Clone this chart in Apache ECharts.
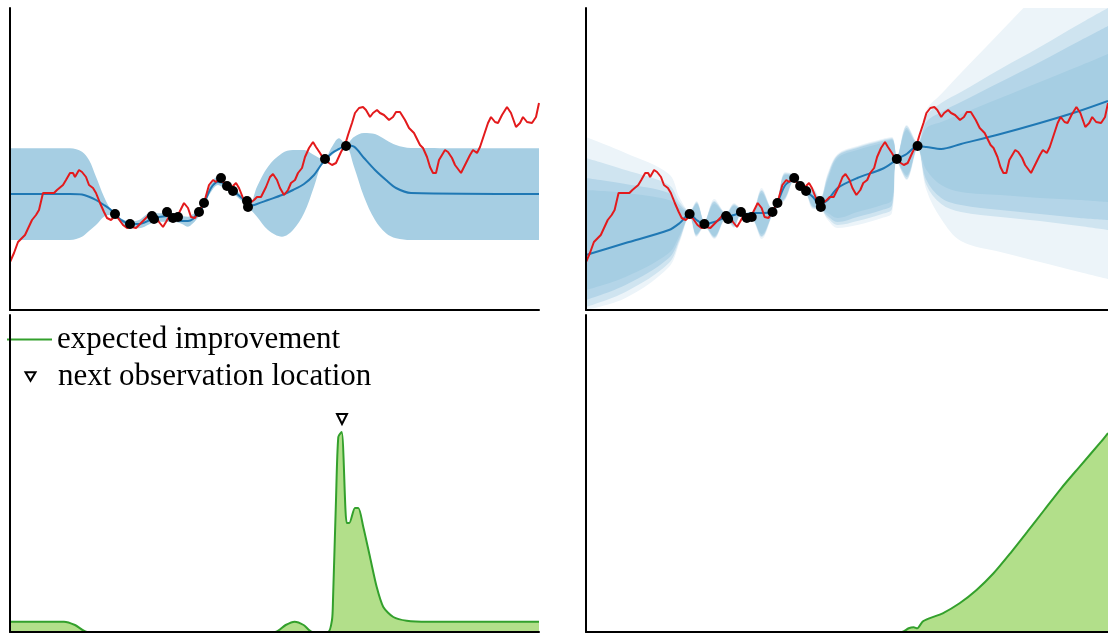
<!DOCTYPE html>
<html>
<head>
<meta charset="utf-8">
<script src="https://cdn.jsdelivr.net/npm/echarts@6/dist/echarts.min.js"></script>
<style>
  html, body { margin: 0; padding: 0; background: #fff; }
  #chart { width: 1108px; height: 633px; }
</style>
</head>
<body>
<div id="chart"></div>
<script>
// ---- objective function (red) ----
const TRUE_X = [0.00,0.04,0.08,0.15,0.22,0.26,0.29,0.33,0.35,0.38,0.44,0.47,0.53,0.56,0.60,0.63,0.65,0.69,0.72,0.76,0.79,0.83,0.86,0.90,0.94,0.97,1.01,1.04,1.08,1.13,1.17,1.22,1.26,1.31,1.36,1.40,1.45,1.49,1.53,1.56,1.60,1.65,1.69,1.74,1.78,1.81,1.85,1.88,1.94,1.99,2.03,2.06,2.10,2.13,2.19,2.22,2.26,2.29,2.33,2.36,2.40,2.44,2.47,2.51,2.56,2.60,2.63,2.67,2.70,2.74,2.78,2.81,2.85,2.88,2.92,2.95,2.99,3.03,3.06,3.10,3.13,3.19,3.22,3.26,3.28,3.31,3.35,3.38,3.42,3.45,3.49,3.53,3.56,3.60,3.63,3.67,3.70,3.74,3.79,3.83,3.86,3.90,3.95,3.99,4.04,4.10,4.13,4.17,4.20,4.23,4.26,4.29,4.35,4.38,4.42,4.45,4.47,4.51,4.53,4.56,4.60,4.63,4.67,4.70,4.74,4.78,4.81,4.85,4.88,4.92,4.97,5.01,5.06,5.10,5.13,5.17,5.22,5.26,5.29];
const TRUE_Y = [0.48,0.57,0.68,0.75,0.90,0.95,1.00,1.17,1.18,1.17,1.17,1.20,1.25,1.30,1.37,1.37,1.33,1.40,1.38,1.33,1.25,1.22,1.17,1.07,0.98,0.92,0.90,0.93,0.92,0.85,0.82,0.83,0.82,0.87,0.92,0.97,0.95,0.88,0.83,0.88,0.95,0.92,0.97,1.07,1.02,0.93,0.92,0.97,1.07,1.25,1.30,1.28,1.33,1.28,1.25,1.23,1.27,1.22,1.12,1.08,1.07,1.10,1.13,1.13,1.23,1.33,1.36,1.30,1.22,1.15,1.20,1.27,1.30,1.37,1.42,1.53,1.62,1.68,1.63,1.57,1.52,1.47,1.45,1.47,1.48,1.58,1.65,1.75,1.87,1.97,2.02,2.03,2.00,1.93,1.97,2.00,1.97,1.95,1.90,1.93,1.98,1.98,1.90,1.82,1.77,1.65,1.62,1.53,1.43,1.37,1.37,1.50,1.60,1.58,1.52,1.45,1.44,1.37,1.37,1.47,1.55,1.60,1.57,1.63,1.75,1.87,1.93,1.88,1.87,1.95,2.03,1.97,1.83,1.87,1.93,1.88,1.87,1.93,2.07];

// ---- observations (black dots) ----
const OBS_X = [1.05,1.20,1.42,1.44,1.57,1.63,1.68,1.89,1.94,2.11,2.17,2.23,2.37,2.38,3.15,3.36];
const OBS_Y = [0.96,0.86,0.94,0.91,0.98,0.92,0.93,0.98,1.07,1.32,1.24,1.19,1.09,1.03,1.51,1.64];

// ---- left model: posterior mean and band ----
const LX     = [0.00,0.60,0.72,0.79,0.86,0.94,1.01,1.05,1.11,1.20,1.29,1.40,1.44,1.51,1.58,1.65,1.72,1.78,1.83,1.86,1.90,1.94,2.01,2.08,2.15,2.26,2.36,2.40,2.47,2.58,2.72,2.83,2.94,3.04,3.11,3.15,3.22,3.29,3.36,3.44,3.54,3.65,3.76,3.86,4.01,5.29];
const L_MEAN = [1.16,1.16,1.155,1.133,1.10,1.05,1.00,0.955,0.90,0.86,0.86,0.90,0.92,0.933,0.94,0.92,0.89,0.89,0.91,0.95,0.98,1.06,1.22,1.28,1.26,1.17,1.083,1.043,1.06,1.10,1.15,1.20,1.26,1.35,1.45,1.50,1.57,1.61,1.645,1.633,1.52,1.40,1.30,1.22,1.17,1.16];
const L_LO   = [0.70,0.70,0.733,0.79,0.85,0.933,0.95,0.94,0.87,0.817,0.817,0.86,0.88,0.883,0.883,0.88,0.86,0.833,0.867,0.90,0.95,1.05,1.18,1.25,1.21,1.14,1.05,1.01,0.933,0.80,0.733,0.80,0.967,1.233,1.45,1.49,1.55,1.607,1.63,1.433,1.133,0.90,0.767,0.717,0.70,0.70];
const L_HI   = [1.617,1.617,1.583,1.50,1.333,1.133,1.00,0.97,0.917,0.883,0.90,0.967,0.967,0.967,0.973,0.967,0.94,0.933,0.96,0.967,0.99,1.067,1.27,1.333,1.283,1.20,1.10,1.067,1.233,1.433,1.567,1.60,1.60,1.55,1.517,1.52,1.633,1.717,1.66,1.73,1.77,1.76,1.70,1.65,1.62,1.617];

// ---- right model: posterior mean and nested quantile bands (1 = innermost) ----
const RX     = [0,0.4,0.84,0.95,1.05,1.12,1.20,1.30,1.42,1.50,1.57,1.63,1.68,1.78,1.89,1.94,2.02,2.11,2.17,2.23,2.30,2.37,2.45,2.55,2.75,3.0,3.10,3.15,3.25,3.36,3.45,3.60,3.80,4.20,4.60,5.00,5.29];
const R_MEAN = [0.55,0.67,0.80,0.87,0.96,0.90,0.86,0.88,0.93,0.95,0.97,0.96,0.97,0.97,0.98,1.07,1.25,1.30,1.25,1.19,1.13,1.06,1.10,1.22,1.32,1.41,1.47,1.51,1.56,1.64,1.63,1.61,1.66,1.76,1.87,1.99,2.09];
const R_LO1 = [0.20,0.33,0.57,0.75,0.94,0.76,0.84,0.74,0.92,0.85,0.96,0.90,0.91,0.76,0.96,1.05,1.13,1.30,1.22,1.17,1.04,1.02,0.97,0.92,0.98,1.05,1.10,1.49,1.35,1.62,1.40,1.25,1.18,1.15,1.12,1.10,1.08];
const R_HI1 = [1.20,1.17,1.10,1.02,0.98,1.06,0.88,1.06,0.96,1.04,1.00,0.96,0.95,1.17,1.00,1.09,1.35,1.34,1.26,1.21,1.19,1.10,1.30,1.52,1.60,1.67,1.70,1.53,1.80,1.66,1.82,1.88,1.96,2.12,2.28,2.44,2.56];
const R_LO2 = [0.10,0.25,0.52,0.72,0.94,0.75,0.84,0.73,0.92,0.84,0.96,0.90,0.91,0.74,0.96,1.05,1.12,1.30,1.22,1.17,1.03,1.02,0.94,0.88,0.93,1.00,1.05,1.49,1.33,1.62,1.30,1.12,1.05,1.00,0.96,0.92,0.90];
const R_HI2 = [1.32,1.26,1.17,1.05,0.98,1.07,0.88,1.08,0.96,1.05,1.00,0.96,0.95,1.19,1.00,1.09,1.36,1.34,1.26,1.21,1.20,1.10,1.33,1.54,1.62,1.69,1.71,1.53,1.82,1.66,1.88,1.98,2.08,2.28,2.48,2.69,2.84];
const R_LO3 = [0.03,0.18,0.47,0.70,0.93,0.74,0.83,0.72,0.91,0.83,0.95,0.89,0.90,0.73,0.95,1.04,1.11,1.29,1.21,1.16,1.02,1.01,0.92,0.85,0.89,0.96,1.01,1.48,1.31,1.61,1.25,1.06,0.98,0.93,0.89,0.84,0.80];
const R_HI3 = [1.52,1.40,1.25,1.08,0.99,1.08,0.89,1.09,0.97,1.06,1.01,0.97,0.96,1.20,1.01,1.10,1.37,1.35,1.27,1.22,1.21,1.11,1.35,1.55,1.63,1.70,1.72,1.54,1.84,1.67,1.94,2.07,2.18,2.41,2.63,2.86,3.02];
const R_LO4 = [0.00,0.12,0.43,0.68,0.93,0.73,0.83,0.71,0.91,0.82,0.95,0.89,0.90,0.71,0.95,1.04,1.10,1.29,1.21,1.16,1.01,1.01,0.90,0.82,0.85,0.92,0.97,1.48,1.30,1.61,1.20,0.91,0.69,0.58,0.48,0.38,0.31];
const R_HI4 = [1.73,1.57,1.36,1.12,0.99,1.09,0.89,1.11,0.97,1.07,1.01,0.97,0.96,1.22,1.01,1.10,1.38,1.35,1.27,1.22,1.22,1.11,1.37,1.56,1.64,1.71,1.73,1.54,1.85,1.67,2.00,2.16,2.37,2.78,3.19,3.60,3.90];

// ---- acquisition: expected improvement ----
const EI_L_X = [0.00,0.54,0.65,0.775,2.65,2.757,2.846,2.936,3.025,3.18,3.22,3.23,3.26,3.283,3.317,3.367,3.393,3.45,3.483,3.533,3.60,3.667,3.733,3.833,3.967,4.18,5.29];
const EI_L_Y = [0.103,0.103,0.07,0.0,0.0,0.07,0.103,0.07,0.0,0.0,0.12,0.32,1.32,1.95,2.00,1.09,1.09,1.24,1.24,1.05,0.75,0.45,0.25,0.15,0.113,0.103,0.103];
const EI_R_X = [0,3.20,3.27,3.32,3.357,3.41,3.478,3.615,3.786,3.958,4.13,4.30,4.473,4.644,4.816,4.988,5.22,5.29];
const EI_R_Y = [0,0,0.037,0.047,0.037,0.103,0.137,0.187,0.287,0.42,0.587,0.787,1.003,1.22,1.437,1.637,1.903,1.99];

// next observation marker (left acquisition panel)
const NEXT_OBS = [3.32, 2.13];

const X_MAX = 5.29;
const TOP_Y_MAX = 3.02;
const BOT_Y_MAX = 3.17;

const C = {
  band: '#a6cee3', mean: '#1f78b4', truth: '#e31a1c',
  eiLine: '#33a02c', eiFill: '#b2df8a',
  // innermost to outermost
  layers: ['#a6cee3', '#b4d5e8', '#cfe4f0', '#ecf4f9']
};

const pairs = (xs, ys) => xs.map((x, i) => [x, ys[i]]);

// an edge filled down to the axis; nested edges painted in order build the bands
function edgeFill(gi, xs, ys, color, z) {
  return {
    type: 'line', xAxisIndex: gi, yAxisIndex: gi, data: pairs(xs, ys),
    symbol: 'none', smooth: 0.35, silent: true, z: z,
    lineStyle: { width: 0, opacity: 0 },
    areaStyle: { color: color, opacity: 1, origin: 'start' }
  };
}

const grids = [
  { left: 10, top: 8, width: 529, height: 302 },
  { left: 586, top: 8, width: 529, height: 302 },
  { left: 10, top: 315, width: 529, height: 317 },
  { left: 586, top: 315, width: 529, height: 317 }
];

const axisLine = { show: true, onZero: false, lineStyle: { color: '#000', width: 2 } };
const xAxes = grids.map((g, i) => ({
  type: 'value', gridIndex: i, min: 0, max: X_MAX, z: 10,
  axisLine: axisLine, axisTick: { show: false }, axisLabel: { show: false }, splitLine: { show: false }
}));
const yAxes = grids.map((g, i) => ({
  type: 'value', gridIndex: i, min: 0, max: i < 2 ? TOP_Y_MAX : BOT_Y_MAX, z: 10,
  axisLine: axisLine, axisTick: { show: false }, axisLabel: { show: false }, splitLine: { show: false }
}));

const series = [];

// top-left: single credible band
series.push(edgeFill(0, LX, L_HI, C.band, 1));
series.push(edgeFill(0, LX, L_LO, '#fff', 1));
series.push({ type: 'line', xAxisIndex: 0, yAxisIndex: 0, data: pairs(LX, L_MEAN), smooth: 0.3,
  symbol: 'none', lineStyle: { color: C.mean, width: 2 }, silent: true, z: 2 });

// top-right: nested bands (upper edges outer→inner, then lower edges inner→outer)
const R_HI = [R_HI4, R_HI3, R_HI2, R_HI1];
R_HI.forEach((hi, k) => series.push(edgeFill(1, RX, hi, C.layers[3 - k], 1)));
const R_LO = [R_LO1, R_LO2, R_LO3, R_LO4];
const LO_FILL = [C.layers[1], C.layers[2], C.layers[3], '#fff'];
R_LO.forEach((lo, k) => series.push(edgeFill(1, RX, lo, LO_FILL[k], 1)));
series.push({ type: 'line', xAxisIndex: 1, yAxisIndex: 1, data: pairs(RX, R_MEAN), smooth: 0.3,
  symbol: 'none', lineStyle: { color: C.mean, width: 2 }, silent: true, z: 2 });

// objective and observations in both top panels
[0, 1].forEach(gi => {
  series.push({ type: 'line', xAxisIndex: gi, yAxisIndex: gi, data: pairs(TRUE_X, TRUE_Y),
    symbol: 'none', lineStyle: { color: C.truth, width: 2 }, silent: true, z: 3 });
  series.push({ type: 'scatter', xAxisIndex: gi, yAxisIndex: gi, data: pairs(OBS_X, OBS_Y),
    symbol: 'circle', symbolSize: 10, itemStyle: { color: '#000', opacity: 1 }, silent: true, z: 4 });
});

// bottom panels: expected improvement
[[2, EI_L_X, EI_L_Y], [3, EI_R_X, EI_R_Y]].forEach(([gi, xs, ys]) => {
  series.push({ name: 'expected improvement', type: 'line', xAxisIndex: gi, yAxisIndex: gi,
    data: pairs(xs, ys), smooth: 0.25, symbol: 'none',
    lineStyle: { color: C.eiLine, width: 2 }, itemStyle: { color: C.eiLine },
    areaStyle: { color: C.eiFill, opacity: 1 }, silent: true, z: 2 });
});
series.push({ name: 'next observation location', type: 'scatter', xAxisIndex: 2, yAxisIndex: 2,
  data: [NEXT_OBS], symbol: 'triangle', symbolRotate: 180, symbolSize: 10,
  itemStyle: { color: '#fff', borderColor: '#000', borderWidth: 2, opacity: 1 }, silent: true, z: 4 });

const legendText = { fontFamily: 'Liberation Serif', fontSize: 31, color: '#000', lineHeight: 30 };
const option = {
  animation: false,
  backgroundColor: '#fff',
  grid: grids,
  xAxis: xAxes,
  yAxis: yAxes,
  legend: [
    { data: [{ name: 'expected improvement', icon: 'path://M0,0H45V2H0Z' }],
      left: 7, top: 324, padding: 0, itemWidth: 45, itemHeight: 14,
      textStyle: legendText, selectedMode: false },
    // the moves at either side keep the glyph centred in a full-width icon slot
    { data: [{ name: 'next observation location', icon: 'path://M-17.5,0M0,0H10L5,8.5ZM27.5,8.5' }],
      left: 7, top: 361, padding: 0, itemWidth: 45, itemHeight: 9,
      textStyle: legendText, selectedMode: false }
  ],
  series: series
};

const chart = echarts.init(document.getElementById('chart'), null, { renderer: 'canvas' });
chart.setOption(option);
</script>
</body>
</html>
